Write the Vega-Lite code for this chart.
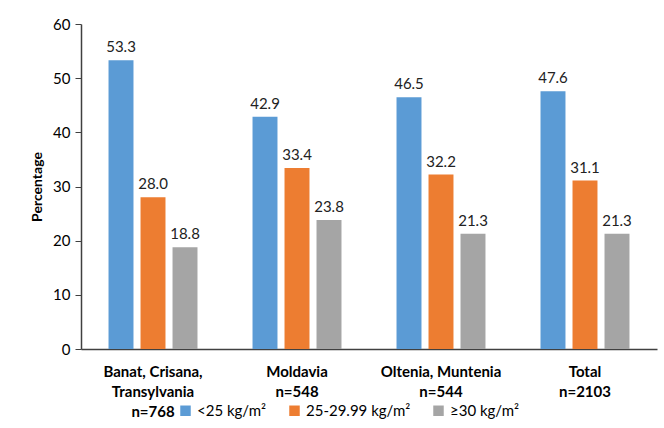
{
  "$schema": "https://vega.github.io/schema/vega-lite/v6.json",
  "width": 576,
  "height": 325,
  "autosize": {"type": "none"},
  "padding": {"left": 81, "top": 24, "right": 7, "bottom": 79},
  "background": "white",
  "config": {
    "font": "Lato",
    "view": {"stroke": null}
  },
  "data": {
    "values": [
      {"region": "Banat, Crisana,|Transylvania|n=768", "bmi": "<25 kg/m²", "pct": 53.3},
      {"region": "Banat, Crisana,|Transylvania|n=768", "bmi": "25-29.99 kg/m²", "pct": 28.0},
      {"region": "Banat, Crisana,|Transylvania|n=768", "bmi": "≥30 kg/m²", "pct": 18.8},
      {"region": "Moldavia|n=548", "bmi": "<25 kg/m²", "pct": 42.9},
      {"region": "Moldavia|n=548", "bmi": "25-29.99 kg/m²", "pct": 33.4},
      {"region": "Moldavia|n=548", "bmi": "≥30 kg/m²", "pct": 23.8},
      {"region": "Oltenia, Muntenia|n=544", "bmi": "<25 kg/m²", "pct": 46.5},
      {"region": "Oltenia, Muntenia|n=544", "bmi": "25-29.99 kg/m²", "pct": 32.2},
      {"region": "Oltenia, Muntenia|n=544", "bmi": "≥30 kg/m²", "pct": 21.3},
      {"region": "Total|n=2103", "bmi": "<25 kg/m²", "pct": 47.6},
      {"region": "Total|n=2103", "bmi": "25-29.99 kg/m²", "pct": 31.1},
      {"region": "Total|n=2103", "bmi": "≥30 kg/m²", "pct": 21.3}
    ]
  },
  "encoding": {
    "x": {
      "field": "region",
      "type": "nominal",
      "sort": null,
      "scale": {"paddingInner": 0.3333, "paddingOuter": 0.1667},
      "axis": {
        "title": null,
        "labelAngle": 0,
        "labelExpr": "split(datum.label, '|')",
        "labelFont": "Lato",
        "labelFontWeight": "bold",
        "labelFontSize": 15,
        "labelColor": "#000000",
        "labelLineHeight": 20,
        "labelPadding": 15,
        "ticks": false,
        "domainColor": "#404040",
        "domainWidth": 1.5
      }
    },
    "xOffset": {
      "field": "bmi",
      "type": "nominal",
      "sort": ["<25 kg/m²", "25-29.99 kg/m²", "≥30 kg/m²"],
      "scale": {"paddingInner": 0.22, "paddingOuter": 0.11}
    },
    "y": {
      "field": "pct",
      "type": "quantitative",
      "scale": {"domain": [0, 60], "nice": false},
      "axis": {
        "title": "Percentage",
        "titleFont": "Lato",
        "titleFontWeight": "bold",
        "titleFontSize": 14,
        "titleColor": "#000000",
        "titlePadding": 8,
        "values": [0, 10, 20, 30, 40, 50, 60],
        "grid": false,
        "labelFontSize": 15,
        "labelColor": "#000000",
        "labelPadding": 5,
        "tickSize": 6,
        "tickColor": "#404040",
        "domainColor": "#404040",
        "domainWidth": 1.5
      }
    },
    "color": {
      "field": "bmi",
      "type": "nominal",
      "sort": ["<25 kg/m²", "25-29.99 kg/m²", "≥30 kg/m²"],
      "scale": {"range": ["#5B9BD5", "#ED7D31", "#A5A5A5"]},
      "legend": {
        "title": null,
        "orient": "none",
        "direction": "horizontal",
        "legendX": 97,
        "legendY": 379,
        "symbolType": "square",
        "symbolSize": 110,
        "symbolStrokeWidth": 0,
        "labelFontSize": 15,
        "labelColor": "#000000",
        "columnPadding": 20,
        "labelOffset": 4
      }
    }
  },
  "layer": [
    {"mark": {"type": "bar"}},
    {
      "mark": {"type": "text", "dy": -13, "fontSize": 15, "color": "#222222"},
      "encoding": {
        "text": {"field": "pct", "type": "quantitative", "format": ".1f"},
        "color": {"value": "#222222"}
      }
    }
  ]
}
